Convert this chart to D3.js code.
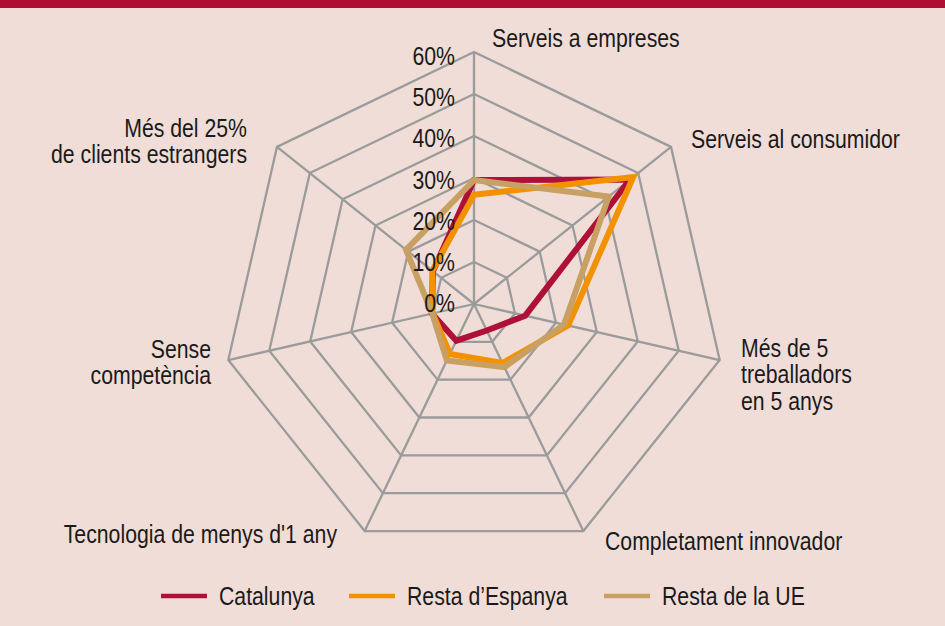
<!DOCTYPE html>
<html>
<head>
<meta charset="utf-8">
<script src="https://cdn.jsdelivr.net/npm/d3@7/dist/d3.min.js"></script>
<style>
  html, body { margin: 0; padding: 0; background: #f0ddd8; }
  svg { display: block; }
  text { font-family: "Liberation Sans", Arial, sans-serif; fill: #1a1a1a; }
</style>
</head>
<body>
<div id="chart"></div>
<script>
// categories (clockwise from the top)
const categories = [
  "Serveis a empreses",
  "Serveis al consumidor",
  "Més de 5 treballadors en 5 anys",
  "Completament innovador",
  "Tecnologia de menys d'1 any",
  "Sense competència",
  "Més del 25% de clients estrangers"
];
const labelLines = [
  ["Serveis a empreses"],
  ["Serveis al consumidor"],
  ["Més de 5", "treballadors", "en 5 anys"],
  ["Completament innovador"],
  ["Tecnologia de menys d'1 any"],
  ["Sense", "competència"],
  ["Més del 25%", "de clients estrangers"]
];
const catalunya    = [29.5, 47.5, 12.5, 7.0, 9.7, 10.3, 12.5];
const restaEspanya = [26.0, 48.5, 23.0, 15.6, 13.2, 10.1, 12.7];
const restaUE      = [29.5, 41.0, 22.0, 16.7, 14.9, 10.2, 20.7];
const ticks = [0, 10, 20, 30, 40, 50, 60];
const seriesNames = ["Catalunya", "Resta d\u2019Espanya", "Resta de la UE"];

const colors = {
  "Catalunya": "#ae1038",
  "Resta d\u2019Espanya": "#f39200",
  "Resta de la UE": "#c9a063"
};

var width = 945, height = 626;
var cx = 474, cy = 304;
var squeeze = 0.85; // narrow the font horizontally

var svg = d3.select("#chart")
  .append("svg")
  .attr("width", width)
  .attr("height", height);

svg.append("rect").attr("width", width).attr("height", height).attr("fill", "#f0ddd8");
svg.append("rect").attr("width", width).attr("height", 8).attr("fill", "#ae0f33");

var r = d3.scaleLinear().domain([0, 60]).range([0, 252]);
var angle = d3.scaleLinear().domain([0, categories.length]).range([0, 2 * Math.PI]);

function pt(i, v) {
  var a = angle(i);
  return [cx + r(v) * Math.sin(a), cy - r(v) * Math.cos(a)];
}

// condensed text: scaled horizontally around its anchor
function addText(x, y, anchor, lines, size, lh) {
  var t = svg.append("g")
    .attr("transform", "translate(" + x + "," + y + ") scale(" + squeeze + ",1)")
    .append("text")
    .attr("text-anchor", anchor)
    .attr("font-size", size);
  lines.forEach(function (l, j) {
    t.append("tspan").attr("x", 0).attr("dy", j === 0 ? 0 : lh).text(l);
  });
  return t;
}

var g = svg.append("g");

// grid polygons
var line = d3.line();
ticks.filter(function (t) { return t > 0; }).forEach(function (t) {
  var pts = categories.map(function (c, i) { return pt(i, t); });
  g.append("path")
    .attr("d", line(pts) + "Z")
    .attr("fill", "none")
    .attr("stroke", "#9a9b9b")
    .attr("stroke-width", 2.3);
});

// spokes
categories.forEach(function (c, i) {
  var p = pt(i, 60);
  g.append("line")
    .attr("x1", cx).attr("y1", cy)
    .attr("x2", p[0]).attr("y2", p[1])
    .attr("stroke", "#9a9b9b")
    .attr("stroke-width", 2.3);
});

// series
var series = [
  { name: seriesNames[0], values: catalunya },
  { name: seriesNames[1], values: restaEspanya },
  { name: seriesNames[2], values: restaUE }
];
series.forEach(function (s) {
  var pts = s.values.map(function (v, i) { return pt(i, v); });
  g.append("path")
    .attr("d", line(pts) + "Z")
    .attr("fill", "none")
    .attr("stroke", colors[s.name])
    .attr("stroke-width", 6)
    .attr("stroke-linejoin", "miter");
});

// tick labels
ticks.forEach(function (t) {
  addText(455, cy - r(t) * 0.98 + 8, "end", [t + "%"], 25, 0);
});

// axis labels (layout: anchor x, first baseline y, text-anchor)
var labelPos = [
  [492, 47, "start"],
  [691, 148, "start"],
  [741, 357, "start"],
  [605, 550, "start"],
  [337, 543, "end"],
  [211, 358, "end"],
  [247, 137, "end"]
];
labelLines.forEach(function (lines, i) {
  addText(labelPos[i][0], labelPos[i][1], labelPos[i][2], lines, 25, 26.5);
});

// legend
var legendX = [161, 349, 604];
seriesNames.forEach(function (n, i) {
  svg.append("line")
    .attr("x1", legendX[i]).attr("x2", legendX[i] + 46)
    .attr("y1", 596).attr("y2", 596)
    .attr("stroke", colors[n])
    .attr("stroke-width", 4.5);
  addText(legendX[i] + 58, 605, "start", [n], 25, 0);
});
</script>
</body>
</html>
